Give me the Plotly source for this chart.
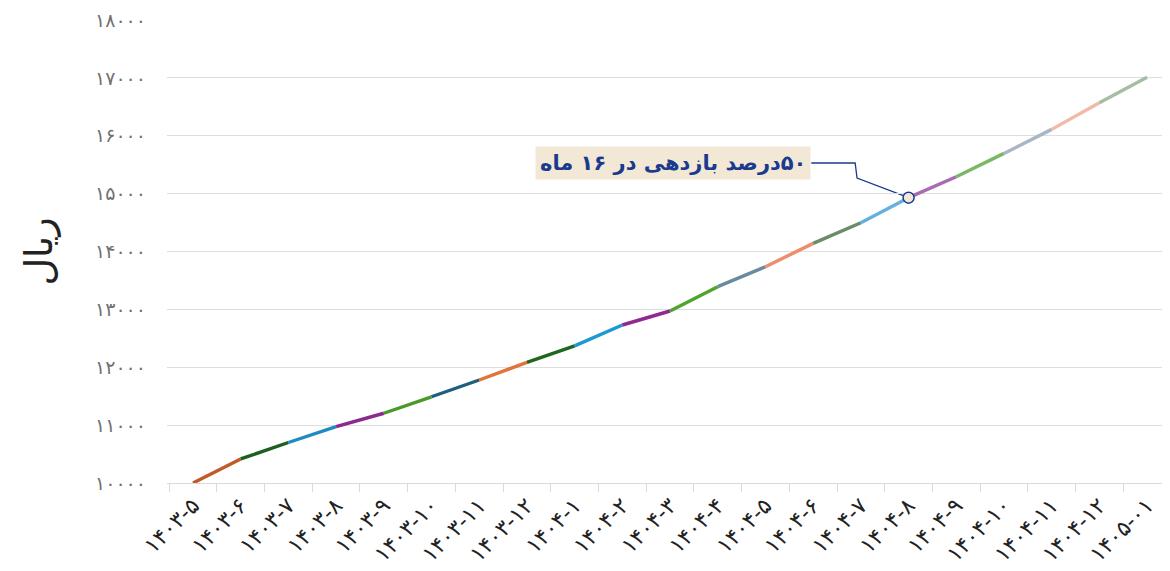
import plotly.graph_objects as go

categories = ["۱۴۰۳-۵", "۱۴۰۳-۶", "۱۴۰۳-۷", "۱۴۰۳-۸", "۱۴۰۳-۹", "۱۴۰۳-۱۰", "۱۴۰۳-۱۱",
              "۱۴۰۳-۱۲", "۱۴۰۴-۱", "۱۴۰۴-۲", "۱۴۰۴-۳", "۱۴۰۴-۴", "۱۴۰۴-۵", "۱۴۰۴-۶",
              "۱۴۰۴-۷", "۱۴۰۴-۸", "۱۴۰۴-۹", "۱۴۰۴-۱۰", "۱۴۰۴-۱۱", "۱۴۰۴-۱۲", "۱۴۰۵-۰۱"]
values = [10000, 10415, 10700, 10975, 11205, 11490, 11780, 12085, 12370, 12730, 12972,
          13392, 13737, 14140, 14497, 14930, 15292, 15695, 16110, 16570, 17010]
segment_colors = ["#c05a28", "#1e5e1e", "#1f8cc0", "#8a2a8c", "#4a9a2a", "#1e5f80",
                  "#e2733a", "#1f661f", "#1b9ad2", "#902a90", "#4fa42a", "#6a8aa0",
                  "#f08c6c", "#6a8c6a", "#66b0e0", "#a86cb0", "#7ab866", "#a8b6c6",
                  "#f4b8a8", "#a6bca6"]
ytick_vals = [10000, 11000, 12000, 13000, 14000, 15000, 16000, 17000, 18000]
ytick_text = ["۱۰۰۰۰", "۱۱۰۰۰", "۱۲۰۰۰", "۱۳۰۰۰", "۱۴۰۰۰", "۱۵۰۰۰", "۱۶۰۰۰", "۱۷۰۰۰", "۱۸۰۰۰"]
highlight_index = 15
annotation_text = "\u200f۵۰درصد بازدهی در ۱۶ ماه"
y_title = "ریال"

fig = go.Figure()
for i in range(len(values) - 1):
    fig.add_trace(go.Scatter(
        x=[categories[i], categories[i + 1]], y=[values[i], values[i + 1]],
        mode="lines", line=dict(color=segment_colors[i], width=3.4),
        showlegend=False, hoverinfo="skip"))

fig.add_trace(go.Scatter(
    x=[categories[highlight_index]], y=[values[highlight_index]], mode="markers",
    marker=dict(size=11, color="#f3e8d5", line=dict(color="#1a3a8f", width=1.5)),
    showlegend=False, hoverinfo="skip"))

hx = highlight_index
hy = values[highlight_index]
fig.add_shape(type="path",
              path=f"M 12.96 15529 L 13.88 15529 L 13.92 15270 L {hx} {hy}",
              xref="x", yref="y", line=dict(color="#1a3a8f", width=1.3), layer="below")

fig.add_annotation(x=12.96, y=15529, xref="x", yref="y", xanchor="right", yanchor="middle",
                   text=f"<b>{annotation_text}</b>", showarrow=False,
                   font=dict(family="DejaVu Sans", size=21, color="#1a3a8f"),
                   bgcolor="#f3e8d5", borderpad=4)

fig.update_layout(
    width=1162, height=563,
    margin=dict(l=159, r=0, t=12, b=88, autoexpand=False),
    plot_bgcolor="white", paper_bgcolor="white",
    font=dict(family="DejaVu Sans", color="#333333"),
)
fig.update_xaxes(type="category", categoryorder="array", categoryarray=categories,
                 range=[-0.545, 20.48], tickangle=-45, showgrid=False, automargin=False,
                 ticks="outside", tickson="boundaries", ticklen=8, tickcolor="#d9d9d9",
                 showline=True, linecolor="#d9d9d9", linewidth=1,
                 tickfont=dict(size=22, color="#222222"), zeroline=False)
fig.update_yaxes(range=[10000, 18000], tickvals=ytick_vals, ticktext=ytick_text,
                 showgrid=True, gridcolor="#dedede", gridwidth=1, zeroline=False,
                 ticks="", ticklabelstandoff=20, automargin=False,
                 tickfont=dict(size=19, color="#707070"),
                 title=dict(text=y_title, font=dict(size=38, color="#222222"), standoff=30))

fig.write_html("out.html")
